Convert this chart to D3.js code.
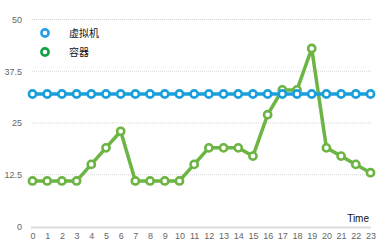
<!DOCTYPE html>
<html>
<head>
<meta charset="utf-8">
<script src="https://cdn.jsdelivr.net/npm/d3@7"></script>
<style>
  html, body { margin: 0; padding: 0; background: #fff; }
  svg { display: block; font-family: "Liberation Sans", Arial, sans-serif; }
</style>
</head>
<body>
<svg id="chart" width="390" height="245"></svg>
<script>
// Hours of the day on the x axis
const hours = d3.range(0, 24);
const xTickLabels = hours.map(String);
const yTicks = [0, 12.5, 25, 37.5, 50];
const yTickLabels = ["0", "12.5", "25", "37.5", "50"];

// Series
const seriesNames = ["虚拟机", "容器"];
const vmValues = [32, 32, 32, 32, 32, 32, 32, 32, 32, 32, 32, 32, 32, 32, 32, 32, 32, 32, 32, 32, 32, 32, 32, 32];
const containerValues = [11, 11, 11, 11, 15, 19, 23, 11, 11, 11, 11, 15, 19, 19, 19, 17, 27, 33, 33, 43, 19, 17, 15, 13];

const lineColors = ["#1b9fdb", "#6cb544"];
const legendColors = ["#2a9ee8", "#14a045"];

const svg = d3.select("#chart");
const x = d3.scaleLinear().domain([0, 23]).range([32.5, 370.5]);
const y = d3.scaleLinear().domain([0, 50]).range([226.5, 19.5]);

// Dotted horizontal grid
svg.append("g")
  .selectAll("line")
  .data(yTicks.filter(d => d > 0))
  .join("line")
  .attr("x1", 32).attr("x2", 372)
  .attr("y1", d => y(d)).attr("y2", d => y(d))
  .attr("stroke", "#d6d6d6")
  .attr("stroke-width", 1)
  .attr("stroke-dasharray", "1,1");

// Y axis labels
const yAxis = d3.axisLeft(y).tickValues(yTicks)
  .tickFormat((d, i) => yTickLabels[i]).tickSize(0).tickPadding(0);
svg.append("g")
  .attr("transform", "translate(22,0)")
  .call(yAxis)
  .call(g => g.select(".domain").remove())
  .call(g => g.selectAll("text").attr("fill", "#666").attr("font-size", 9));

// X axis baseline and labels
svg.append("line")
  .attr("x1", 31).attr("x2", 371)
  .attr("y1", y(0) + 1).attr("y2", y(0) + 1)
  .attr("stroke", "#dcdcdc").attr("stroke-width", 2);

const xAxis = d3.axisBottom(x).tickValues(hours)
  .tickFormat((d, i) => xTickLabels[i]).tickSize(0).tickPadding(0);
svg.append("g")
  .attr("transform", "translate(0,233)")
  .call(xAxis)
  .call(g => g.select(".domain").remove())
  .call(g => g.selectAll("text").attr("fill", "#666").attr("font-size", 9));

svg.append("text")
  .attr("x", 369).attr("y", 222)
  .attr("text-anchor", "end")
  .attr("font-size", 10)
  .attr("fill", "#111")
  .text("Time");

// Lines with hollow markers
const line = d3.line().x((d, i) => x(hours[i])).y(d => y(d));

function drawSeries(values, color) {
  const g = svg.append("g");
  g.append("path")
    .datum(values)
    .attr("d", line)
    .attr("fill", "none")
    .attr("stroke", color)
    .attr("stroke-width", 3.5)
    .attr("stroke-linejoin", "round");
  g.selectAll("circle")
    .data(values)
    .join("circle")
    .attr("cx", (d, i) => x(hours[i]))
    .attr("cy", d => y(d))
    .attr("r", 3.6)
    .attr("fill", "#fff")
    .attr("stroke", color)
    .attr("stroke-width", 2.6);
}

drawSeries(containerValues, lineColors[1]);
drawSeries(vmValues, lineColors[0]);

// Legend
const legend = svg.append("g")
  .selectAll("g")
  .data(seriesNames)
  .join("g")
  .attr("transform", (d, i) => `translate(45,${33 + i * 19})`);
legend.append("circle")
  .attr("r", 3.6)
  .attr("fill", "#fff")
  .attr("stroke", (d, i) => legendColors[i])
  .attr("stroke-width", 2.6);
legend.append("text")
  .attr("x", 24).attr("dy", "0.35em")
  .attr("font-size", 10)
  .attr("font-family", "'Noto Sans CJK SC', sans-serif")
  .attr("fill", "#111")
  .text(d => d);
</script>
</body>
</html>
